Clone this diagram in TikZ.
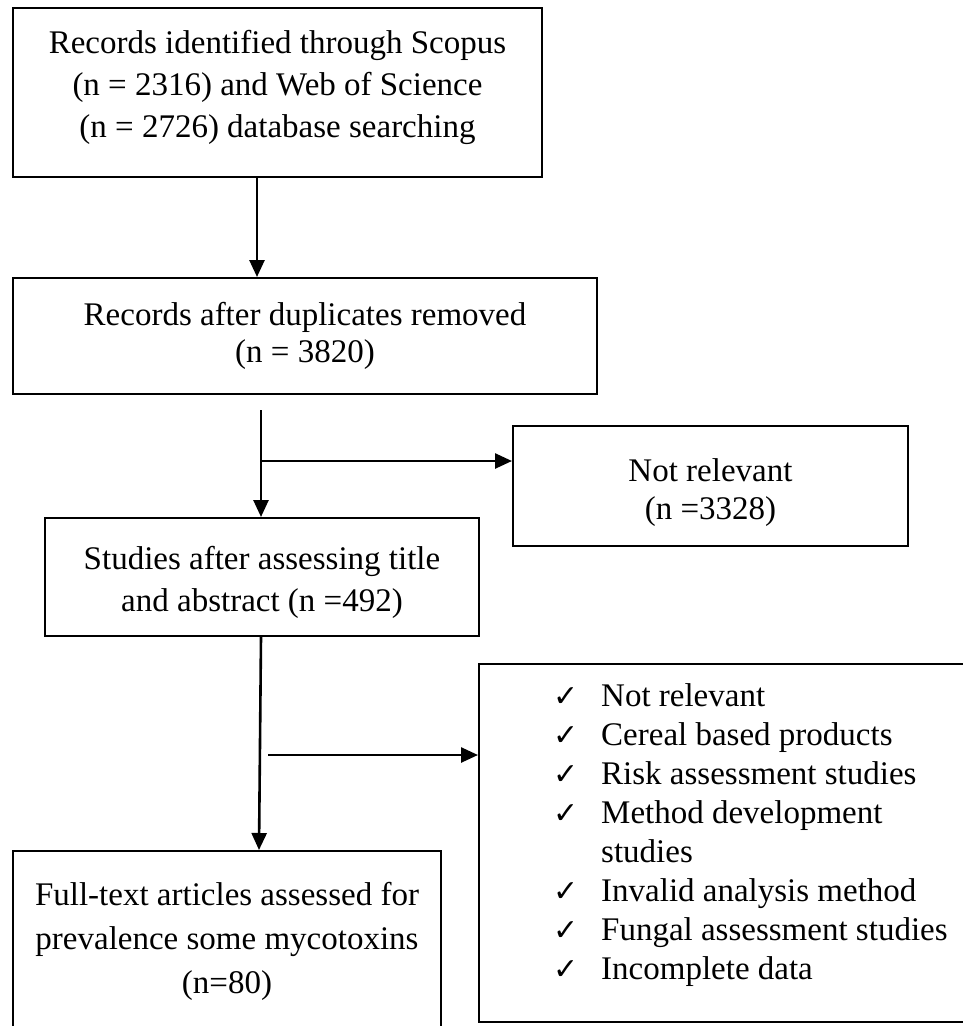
\documentclass[tikz,border=0pt]{standalone}
\usepackage{fontspec}
\setmainfont{Liberation Serif}
\newfontfamily\symfont{DejaVu Sans}
\usetikzlibrary{arrows.meta,calc}
\newcommand{\ck}{\makebox[48pt][l]{\symfont\fontsize{30}{30}\selectfont ✓}}
\begin{document}
\begin{tikzpicture}[x=1pt,y=-1pt,
  box/.style={draw, line width=2pt, inner sep=0pt, align=center},
  txt/.style={font=\fontsize{33}{42}\selectfont},
  arr/.style={line width=2.6pt, -{Triangle[length=17pt,width=15pt]}}]
\useasboundingbox (0,0) rectangle (963,1026);
% boxes
\node[box, txt, anchor=north west, minimum width=529pt, minimum height=169pt] (b1) at (12,7)
  {Records identified through Scopus\\(n = 2316) and Web of Science\\(n = 2726) database searching\rule[-18pt]{0pt}{1pt}};
\node[box, anchor=north west, minimum width=584pt, minimum height=116pt, font=\fontsize{33}{37}\selectfont] (b2) at (12,277)
  {Records after duplicates removed\\(n = 3820)};
\node[box, anchor=north west, minimum width=395pt, minimum height=120pt, font=\fontsize{33}{38}\selectfont] (nr) at (512,425)
  {\rule{0pt}{36pt}Not relevant\\(n =3328)};
\node[box, txt, anchor=north west, minimum width=434pt, minimum height=118pt] (b3) at (44,517)
  {\rule{0pt}{34pt}Studies after assessing title\\and abstract (n =492)};
\node[box, anchor=north west, minimum width=428pt, minimum height=180pt, font=\fontsize{33}{44}\selectfont] (b4) at (12,850)
  {Full-text articles assessed for\\prevalence some mycotoxins\\(n=80)};
\node[box, anchor=north west, minimum width=530pt, minimum height=358pt] (exc) at (478,663) {};
\node[anchor=base west, inner sep=0pt, font=\fontsize{33}{39}\selectfont] (lst) at (553,706)
  {\begin{tabular}[t]{@{}l@{}l@{}}
   \ck & Not relevant\\
   \ck & Cereal based products\\
   \ck & Risk assessment studies\\
   \ck & Method development\\
       & studies\\
   \ck & Invalid analysis method\\
   \ck & Fungal assessment studies\\
   \ck & Incomplete data
   \end{tabular}};
% connectors
\coordinate (x1) at (257,0);
\draw[arr] (b1.south -| x1) -- (b2.north -| x1);
\coordinate (s2) at (261,410);
\draw[arr] (s2) -- (s2 |- b3.north);
\coordinate (j2) at (261,461);
\draw[arr] (j2) -- (j2 -| nr.west);
\coordinate (x3) at (261,0);
\draw[arr] (b3.south -| x3) -- ([xshift=32pt]b4.north);
\coordinate (j3) at (268,755);
\draw[arr] (j3) -- (j3 -| exc.west);
\end{tikzpicture}
\end{document}
